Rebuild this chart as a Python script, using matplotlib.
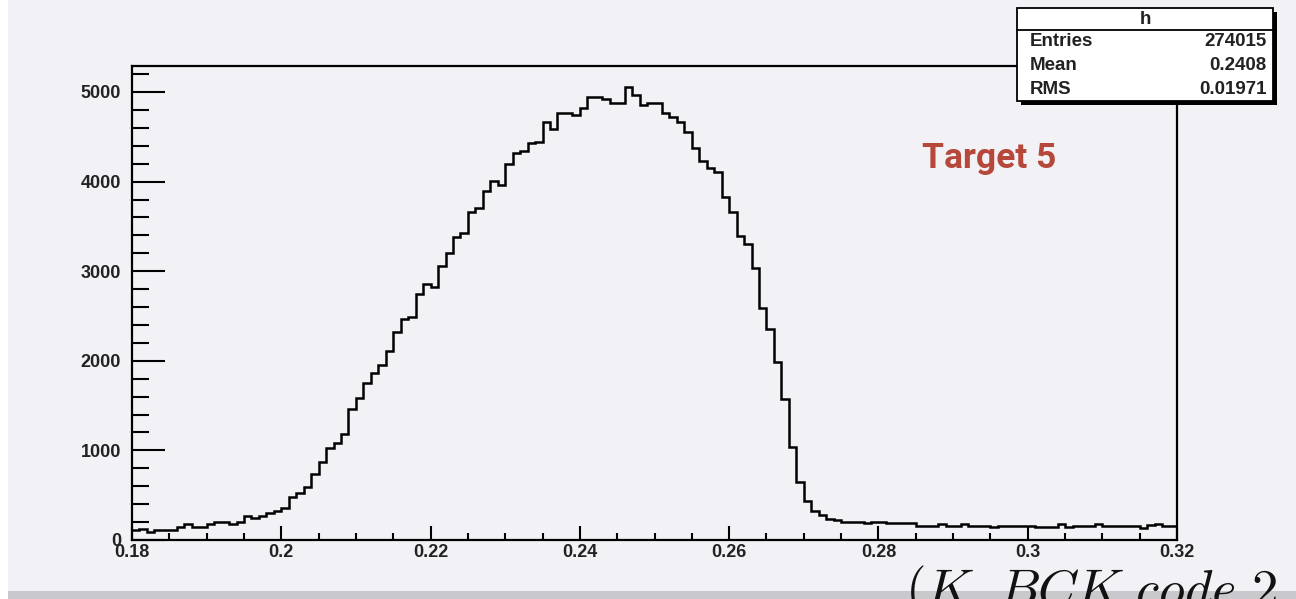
import numpy as np
import matplotlib
matplotlib.use("Agg")
import matplotlib.pyplot as plt
from matplotlib.patches import Rectangle
from matplotlib.ticker import MultipleLocator

# histogram "h": 140 bins between 0.18 and 0.32
x_lo, x_hi = 0.18, 0.32
counts = [
    110, 125, 85, 110, 110, 115, 150, 180, 150, 150,
    180, 205, 205, 180, 205, 268, 242, 268, 297, 323,
    361, 476, 520, 595, 732, 866, 1030, 1086, 1183, 1458,
    1581, 1748, 1867, 1953, 2113, 2318, 2463, 2493, 2742, 2853,
    2827, 3062, 3207, 3385, 3423, 3665, 3709, 3899, 4010, 3962,
    4196, 4323, 4345, 4427, 4446, 4669, 4583, 4762, 4762, 4743,
    4818, 4948, 4948, 4918, 4881, 4881, 5060, 4967, 4855, 4881,
    4881, 4762, 4717, 4669, 4557, 4371, 4234, 4148, 4111, 3832,
    3657, 3393, 3304, 3032, 2586, 2351, 1990, 1570, 1042, 651,
    440, 320, 280, 235, 223, 205, 205, 205, 186, 205,
    205, 186, 186, 186, 186, 156, 156, 156, 179, 156,
    156, 179, 156, 156, 156, 141, 156, 156, 156, 156,
    156, 141, 141, 141, 179, 141, 156, 156, 156, 179,
    156, 156, 156, 156, 156, 130, 164, 179, 156, 156,
]
x_ticks = [0.18, 0.2, 0.22, 0.24, 0.26, 0.28, 0.3, 0.32]
x_ticklabels = ["0.18", "0.2", "0.22", "0.24", "0.26", "0.28", "0.3", "0.32"]
y_ticks = [0, 1000, 2000, 3000, 4000, 5000]

stats_title = "h"
stats_names = ["Entries", "Mean", "RMS"]
stats_values = ["274015", "0.2408", "0.01971"]

W, H = 1296, 599
bg = "#f2f1f6"


def fx(px):
    return px / W


def fy(py):
    return 1 - py / H


plt.rcParams["mathtext.fontset"] = "cm"
fig = plt.figure(figsize=(W / 100, H / 100), dpi=100, facecolor=bg)

# white strip on the left, grey band at the bottom (slide edges)
fig.patches.append(Rectangle((0, 0), fx(8), 1, transform=fig.transFigure,
                             facecolor="white", edgecolor="none", zorder=0))
fig.patches.append(Rectangle((fx(8), 0), 1, fy(591), transform=fig.transFigure,
                             facecolor="#c9c8cc", edgecolor="none", zorder=0))

ax = fig.add_axes([fx(132), fy(540), fx(1177) - fx(132), fy(66) - fy(540)])
ax.set_facecolor(bg)

edges = np.linspace(x_lo, x_hi, len(counts) + 1)
ax.stairs(counts, edges, color="black", lw=1.8, baseline=None)

ax.set_xlim(x_lo, x_hi)
ax.set_ylim(0, 5290)
ax.set_xticks(x_ticks)
ax.set_xticklabels(x_ticklabels)
ax.set_yticks(y_ticks)
ax.xaxis.set_minor_locator(MultipleLocator(0.005))
ax.yaxis.set_minor_locator(MultipleLocator(200))

ax.tick_params(axis="both", which="both", direction="in", color="black",
               top=False, right=False)
ax.tick_params(axis="x", which="major", length=10, width=1.5, pad=3)
ax.tick_params(axis="x", which="minor", length=5, width=1.5)
ax.tick_params(axis="y", which="major", length=24, width=1.5, pad=8)
ax.tick_params(axis="y", which="minor", length=12, width=1.5)
for lab in ax.get_xticklabels() + ax.get_yticklabels():
    lab.set_fontfamily("Liberation Sans")
    lab.set_fontweight("bold")
    lab.set_fontsize(13)
    lab.set_color("#222222")
for s in ax.spines.values():
    s.set_linewidth(1.6)
    s.set_color("black")

# stats box
bx0, by0, bx1, by1 = 1017, 8, 1273, 101
fig.patches.append(Rectangle((fx(bx0 + 4), fy(by1 + 4)), fx(bx1 - bx0), fy(by0) - fy(by1),
                             transform=fig.transFigure, facecolor="black",
                             edgecolor="none", zorder=5))
fig.patches.append(Rectangle((fx(bx0), fy(by1)), fx(bx1 - bx0), fy(by0) - fy(by1),
                             transform=fig.transFigure, facecolor="white",
                             edgecolor="black", lw=1.3, zorder=6))
fig.lines.append(plt.Line2D([fx(bx0), fx(bx1)], [fy(30), fy(30)],
                            transform=fig.transFigure, color="black", lw=1.3, zorder=7))
tkw = dict(fontfamily="Liberation Sans", fontweight="bold", fontsize=13.5,
           color="#222222", zorder=8, va="center")
fig.text(fx(1145), fy(19), stats_title, ha="center", **tkw)
for i, (name, val) in enumerate(zip(stats_names, stats_values)):
    yy = fy(42 + i * 23.5)
    fig.text(fx(1030), yy, name, ha="left", **tkw)
    fig.text(fx(1267), yy, val, ha="right", **tkw)

fig.text(fx(922), fy(158), "Target 5", fontfamily="Roboto", fontweight="bold",
         fontsize=25.5, color="#b5483a", ha="left", va="center")

fig.text(fx(905), fy(606), r"$(K\_BCK\ code\ \mathbf{2}$", fontsize=38,
         color="#111111", ha="left", va="baseline", zorder=9)

fig.savefig("out.png", dpi=100, facecolor=bg)
